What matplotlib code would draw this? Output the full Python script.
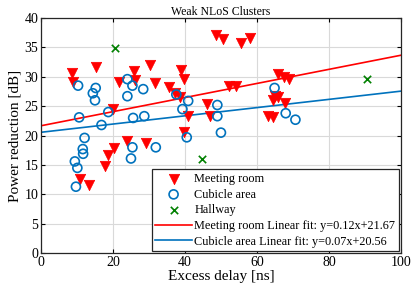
import numpy as np
import matplotlib
matplotlib.use("Agg")
import matplotlib.pyplot as plt

plt.rcParams['font.family'] = ['Liberation Serif', 'DejaVu Serif']
plt.rcParams['mathtext.fontset'] = 'stix'

meeting_x = [8.5, 9.0, 15.2, 21.8, 25.8, 26.1, 30.3, 31.7, 20.1, 38.8, 39.6, 35.5, 37.2, 38.6,
             39.6, 40.9, 46.0, 46.9, 48.6, 50.6, 55.5, 58.2, 52.3, 54.2, 65.9, 67.6, 68.9,
             65.0, 65.9, 64.5, 67.7, 63.1, 64.5, 23.8, 29.2, 20.3, 18.7, 17.9, 10.8, 13.4]
meeting_y = [30.7, 29.2, 31.7, 29.2, 31.0, 29.5, 32.0, 29.0, 24.6, 31.2, 29.6, 28.3, 27.2, 26.6,
             20.6, 23.3, 25.4, 23.3, 37.1, 36.4, 35.7, 36.6, 28.4, 28.4, 30.5, 29.9, 29.6,
             26.8, 26.5, 26.1, 25.6, 23.4, 23.2, 19.0, 18.7, 17.8, 16.7, 14.8, 12.6, 11.6]

cubicle_x = [10.3, 15.2, 14.4, 15.0, 10.6, 18.7, 16.8, 12.1, 24.0, 25.4, 24.0, 28.4, 25.6, 28.7,
             37.6, 40.9, 39.3, 49.0, 49.0, 50.0, 40.5, 64.9, 68.0, 70.7, 11.6, 11.7, 25.4, 25.0,
             31.9, 9.4, 10.1, 9.7]
cubicle_y = [28.5, 28.1, 27.2, 26.0, 23.1, 24.0, 21.8, 19.6, 29.6, 28.5, 26.7, 27.9, 23.0, 23.3,
             27.0, 25.9, 24.5, 25.2, 23.3, 20.5, 19.7, 28.1, 23.8, 22.7, 17.7, 16.9, 18.0, 16.1,
             18.0, 15.6, 14.5, 11.3]

hallway_x = [20.6, 44.6, 90.6]
hallway_y = [34.9, 16.0, 29.6]

fit_meeting = [0.12, 21.67]
fit_cubicle = [0.07, 20.56]

red = '#FF0000'
blue = '#0072BD'
green = '#008000'

fig = plt.figure(figsize=(4.16, 2.96), dpi=100)
ax = fig.add_axes([0.0986, 0.145, 0.865, 0.794])

ax.scatter(meeting_x, meeting_y, marker='v', s=56, color=red, edgecolors=red, linewidths=0.5,
           label='Meeting room', zorder=3)
ax.scatter(cubicle_x, cubicle_y, marker='o', s=42, facecolors='none', edgecolors=blue, linewidths=1.2,
           label='Cubicle area', zorder=3)
ax.scatter(hallway_x, hallway_y, marker='x', s=28, color=green, linewidths=1.2,
           label='Hallway', zorder=3)

xf = np.linspace(0, 100, 50)
ax.plot(xf, np.polyval(fit_meeting, xf), color=red, lw=1.2,
        label='Meeting room Linear fit: y=%.2fx+%.2f' % tuple(fit_meeting), zorder=2)
ax.plot(xf, np.polyval(fit_cubicle, xf), color=blue, lw=1.2,
        label='Cubicle area Linear fit: y=%.2fx+%.2f' % tuple(fit_cubicle), zorder=2)

ax.set_xlim(0, 100)
ax.set_ylim(0, 40)
ax.set_xticks(np.arange(0, 101, 20))
ax.set_yticks(np.arange(0, 41, 5))
ax.grid(True, color='#D9D9D9', lw=0.8)
ax.set_axisbelow(True)
ax.tick_params(direction='in', top=True, right=True, labelsize=10, length=3, width=0.8, pad=2)
for sp in ax.spines.values():
    sp.set_linewidth(0.9)
    sp.set_color('#262626')

ax.set_xlabel('Excess delay [ns]', fontsize=11, labelpad=1)
ax.set_ylabel('Power reduction [dB]', fontsize=11, labelpad=2)
ax.set_title('Weak NLoS Clusters', fontsize=8.5, pad=2)

leg = ax.legend(loc='lower right', fontsize=8.8, frameon=True, fancybox=False,
                edgecolor='#262626', framealpha=1, handlelength=3.0, handletextpad=0.2,
                borderpad=0.3, labelspacing=0.3, borderaxespad=0.15, scatterpoints=1)
leg.get_frame().set_linewidth(0.9)

fig.savefig('out.png', dpi=100)
